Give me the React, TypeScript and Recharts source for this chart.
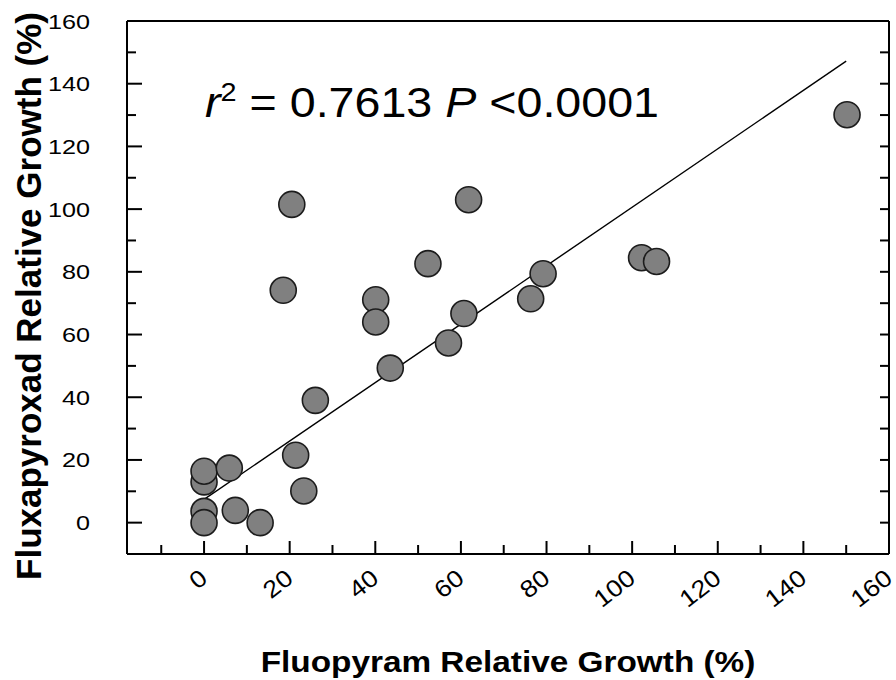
import { ComposedChart, Scatter, XAxis, YAxis, ReferenceLine, Label } from 'recharts';

// Fluopyram vs fluxapyroxad relative growth (%), one entry per isolate
const fluopyram = [0, 0, 0, 0, 5.9, 7.3, 13.1, 18.5, 20.5, 21.4, 23.3, 26, 40.1, 40.1, 43.5, 52.3, 57.1, 60.7, 61.8, 76.3, 79.2, 102.2, 105.7, 150.2];
const fluxapyroxad = [3.6, 0, 13, 16.4, 17.4, 3.9, 0, 74.1, 101.5, 21.5, 10.1, 39, 71.1, 64, 49.3, 82.6, 57.3, 66.7, 103, 71.4, 79.4, 84.5, 83.3, 130.1];

// fitted regression line endpoints
const fitX = [0, 150];
const fitY = [7.4, 147.2];

const bottomTicks = [-10, 0, 10, 20, 30, 40, 50, 60, 70, 80, 90, 100, 110, 120, 130, 140, 150, 160];
const topTicks = [-10, 10, 30, 50, 70, 90, 110, 130, 150];
const leftTicks = [0, 10, 20, 30, 40, 50, 60, 70, 80, 90, 100, 110, 120, 130, 140, 150, 160];
const rightTicks = [0, 10, 20, 30, 40, 50, 60, 70, 80, 90, 100, 110, 120, 130, 140, 150];

const rSquared = '0.7613';
const pValue = '<0.0001';

const points = fluopyram.map((x, i) => ({ x, y: fluxapyroxad[i] }));

const FONT = '"Liberation Sans", Arial, Helvetica, sans-serif';

const BottomTick = ({ x, y, payload }: any) => {
  const v = payload.value;
  const major = v % 20 === 0;
  return (
    <g>
      <line x1={x} x2={x} y1={y} y2={y - (major ? 13 : 9)} stroke="#000" strokeWidth={2} />
      {major && (
        <text
          transform={`translate(${x + 5},${y + 27}) rotate(-38) scale(1.12,1)`}
          textAnchor="end"
          fontSize={24}
          fontFamily={FONT}
          fill="#000"
        >
          {v}
        </text>
      )}
    </g>
  );
};

const TopTick = ({ x, y }: any) => (
  <line x1={x} x2={x} y1={y} y2={y + 9} stroke="#000" strokeWidth={2} />
);

const LeftTick = ({ x, y, payload }: any) => {
  const v = payload.value;
  const major = v % 20 === 0;
  return (
    <g>
      <line x1={x} x2={x + (major ? 15 : 9)} y1={y} y2={y} stroke="#000" strokeWidth={2} />
      {major && (
        <text
          transform={`translate(${x - 37},${y + 7.5}) scale(1.2,1)`}
          textAnchor="end"
          fontSize={21}
          fontFamily={FONT}
          fill="#000"
        >
          {v}
        </text>
      )}
    </g>
  );
};

const RightTick = ({ x, y }: any) => (
  <line x1={x} x2={x - 9} y1={y} y2={y} stroke="#000" strokeWidth={2} />
);

const XTitle = () => (
  <text
    transform="translate(508,672) scale(1.15,1)"
    textAnchor="middle"
    fontSize={29}
    fontWeight="bold"
    fontFamily={FONT}
    fill="#000"
  >
    Fluopyram Relative Growth (%)
  </text>
);

const YTitle = () => (
  <text
    transform="translate(41,296) rotate(-90)"
    textAnchor="middle"
    fontSize={35}
    fontWeight="bold"
    fontFamily={FONT}
    fill="#000"
  >
    Fluxapyroxad Relative Growth (%)
  </text>
);

const StatsNote = () => (
  <text transform="translate(205,117) scale(1.11,1)" fontSize={42} fontFamily={FONT} fill="#000">
    <tspan fontStyle="italic">r</tspan>
    <tspan fontSize={26} dy={-16}>2</tspan>
    <tspan dy={16}>{` = ${rSquared} `}</tspan>
    <tspan fontStyle="italic">P</tspan>
    <tspan>{` ${pValue}`}</tspan>
  </text>
);

const Dot = ({ cx, cy }: any) => (
  <circle cx={cx} cy={cy} r={13} fill="#808080" stroke="#1c1c1c" strokeWidth={1.6} />
);

export default function App() {
  return (
    <div style={{ position: 'absolute', left: 0, top: 0, background: '#fff' }}>
      <ComposedChart
        width={896}
        height={680}
        margin={{ top: 20, right: 6, bottom: 0, left: 0 }}
        style={{ fontFamily: FONT }}
      >
        <XAxis
          xAxisId="b"
          dataKey="x"
          type="number"
          domain={[-18, 160]}
          allowDataOverflow
          ticks={bottomTicks}
          interval={0}
          height={126}
          tickSize={0}
          tickMargin={0}
          tickLine={false}
          axisLine={{ stroke: '#000', strokeWidth: 2 }}
          tick={<BottomTick />}
        >
          <Label content={<XTitle />} />
        </XAxis>
        <XAxis
          xAxisId="t"
          orientation="top"
          type="number"
          domain={[-18, 160]}
          allowDataOverflow
          ticks={topTicks}
          interval={0}
          height={1}
          tickSize={0}
          tickMargin={0}
          tickLine={false}
          axisLine={{ stroke: '#000', strokeWidth: 2 }}
          tick={<TopTick />}
        >
          <Label content={<StatsNote />} />
        </XAxis>
        <YAxis
          yAxisId="l"
          dataKey="y"
          type="number"
          domain={[-10, 160]}
          allowDataOverflow
          ticks={leftTicks}
          interval={0}
          width={127}
          tickSize={0}
          tickMargin={0}
          tickLine={false}
          axisLine={{ stroke: '#000', strokeWidth: 2 }}
          tick={<LeftTick />}
        >
          <Label content={<YTitle />} />
        </YAxis>
        <YAxis
          yAxisId="r"
          orientation="right"
          type="number"
          domain={[-10, 160]}
          allowDataOverflow
          ticks={rightTicks}
          interval={0}
          width={1}
          tickSize={0}
          tickMargin={0}
          tickLine={false}
          axisLine={{ stroke: '#000', strokeWidth: 2 }}
          tick={<RightTick />}
        />
        <ReferenceLine
          xAxisId="b"
          yAxisId="l"
          segment={[
            { x: fitX[0], y: fitY[0] },
            { x: fitX[1], y: fitY[1] },
          ]}
          stroke="#000"
          strokeWidth={1.4}
        />
        <Scatter
          xAxisId="b"
          yAxisId="l"
          data={points}
          shape={<Dot />}
          isAnimationActive={false}
        />
      </ComposedChart>
    </div>
  );
}
